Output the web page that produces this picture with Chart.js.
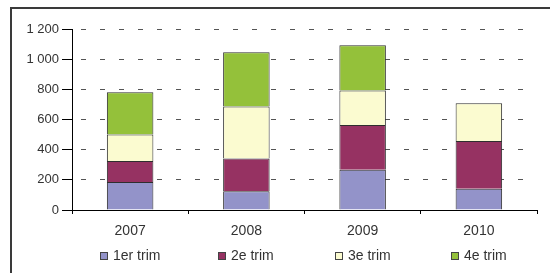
<!DOCTYPE html>
<html>
<head>
<meta charset="utf-8">
<script src="https://cdn.jsdelivr.net/npm/chart.js@4"></script>
<style>
  html, body { margin: 0; padding: 0; background: #fff; overflow: hidden; }
  #cadre {
    position: absolute; left: 10px; top: 7px; width: 600px; height: 300px;
    border: 2px solid #3a3a3a;
  }
  #zone { position: absolute; left: 0; top: 0; width: 550px; height: 273px; }
</style>
</head>
<body>
<div id="cadre"></div>
<div id="zone"><canvas id="graphique"></canvas></div>
<script>
// donnees
let annees = ["2007", "2008", "2009", "2010"]
let trim1 = [185, 124, 267, 141]
let trim2 = [140, 218, 296, 316]
let trim3 = [175, 345, 230, 250]
let trim4 = [280, 359, 300, null]
let nomsSeries = ["1er trim", "2e trim", "3e trim", "4e trim"]
let ticksY = [0, 200, 400, 600, 800, 1000, 1200]

let couleurs = ["#9393c9", "#963262", "#fbfbd0", "#94c13a"]
let police = "'Liberation Sans', Arial, sans-serif"

function formatNombre(v) {
  return String(v).replace(/\B(?=(\d{3})+(?!\d))/g, " ");
}

let series = [trim1, trim2, trim3, trim4]
let datasets = series.map((valeurs, i) => {
  return {
    label: nomsSeries[i],
    data: valeurs,
    backgroundColor: couleurs[i],
    borderColor: "#2e2e2e",
    borderWidth: 1,
    categoryPercentage: 1,
    barPercentage: 0.4,
  };
});

// legende facon Excel : une entree centree sous chaque colonne
const legendeExcel = {
  id: "legendeExcel",
  afterDraw(chart) {
    let ctx = chart.ctx;
    let x = chart.scales.x;
    let y = chart.chartArea.bottom + 46;
    ctx.save();
    ctx.font = "14px " + police;
    ctx.textBaseline = "middle";
    ctx.textAlign = "left";
    nomsSeries.forEach((nom, i) => {
      let largeurTexte = ctx.measureText(nom).width;
      let largeur = 8 + 5 + largeurTexte;
      let debut = Math.round(x.getPixelForValue(i) - largeur / 2);
      ctx.fillStyle = couleurs[i];
      ctx.fillRect(debut + 0.5, y - 4 + 0.5, 7, 7);
      ctx.strokeStyle = "#444";
      ctx.lineWidth = 1;
      ctx.strokeRect(debut + 0.5, y - 4 + 0.5, 7, 7);
      ctx.fillStyle = "#333";
      ctx.fillText(nom, debut + 13, y);
    });
    ctx.restore();
  },
};

Chart.defaults.font.family = police;
Chart.defaults.font.size = 14;
Chart.defaults.color = "#333";

new Chart(document.getElementById("graphique"), {
  type: "bar",
  data: { labels: annees, datasets: datasets },
  plugins: [legendeExcel],
  options: {
    responsive: true,
    maintainAspectRatio: false,
    animation: false,
    layout: { padding: { top: 29, right: 13, left: 0, bottom: 30 } },
    plugins: {
      tooltip: { enabled: false },
      legend: { display: false },
    },
    scales: {
      x: {
        stacked: true,
        offset: true,
        grid: {
          offset: true,
          drawOnChartArea: false,
          tickLength: 4,
          tickColor: "#000",
          tickWidth: 1,
        },
        border: { color: "#000", width: 1 },
        ticks: { padding: 9 },
        afterFit: (scale) => { scale.height = 33; },
      },
      y: {
        stacked: true,
        min: 0,
        max: 1200,
        afterBuildTicks: (scale) => {
          scale.ticks = ticksY.map((v) => ({ value: v }));
        },
        grid: {
          color: "#555",
          lineWidth: 1,
          tickLength: 10,
          tickColor: "#000",
          tickWidth: 1,
          tickBorderDash: [],
        },
        border: { color: "#000", width: 1, dash: [5, 14], dashOffset: -8 },
        ticks: {
          padding: 3,
          font: { size: 13 },
          callback: (v) => formatNombre(v),
        },
        afterFit: (scale) => { scale.width = 72; },
      },
    },
  },
});
</script>
</body>
</html>
